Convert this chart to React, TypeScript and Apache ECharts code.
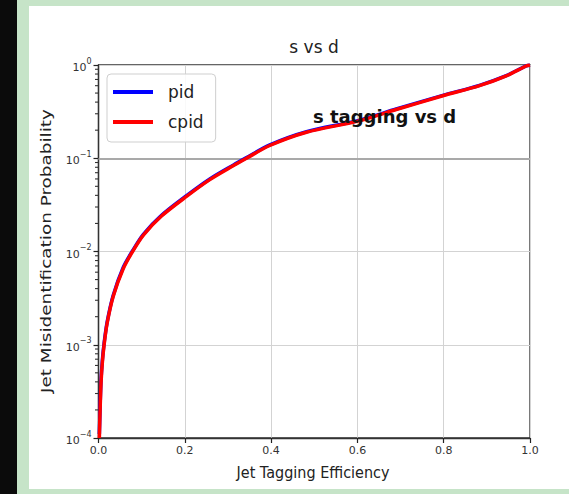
import React, { useEffect, useRef } from "react";
import * as echarts from "echarts";

// ---- data ----
const X_TICKS = [0, 0.2, 0.4, 0.6, 0.8, 1.0];
const Y_DECADES = [1e-4, 1e-3, 1e-2, 1e-1, 1];
const MINOR_MANTISSAS = [2, 3, 4, 5, 6, 7, 8, 9];
const MINOR_DECADES = [1e-4, 1e-3, 1e-2, 1e-1];

const EFF = [0.002, 0.004, 0.006, 0.009, 0.013, 0.02, 0.034, 0.057, 0.079, 0.104, 0.146, 0.204, 0.258, 0.312, 0.343, 0.397, 0.482, 0.601, 0.69, 0.798, 0.883, 0.945, 0.991, 1.0];
const PID = [1.1e-4, 2.4e-4, 4.3e-4, 6.9e-4, 1.04e-3, 1.75e-3, 3.38e-3, 6.7e-3, 1.02e-2, 0.0153, 0.0244, 0.0397, 0.06, 0.0843, 0.1015, 0.139, 0.1925, 0.2535, 0.337, 0.4725, 0.605, 0.769, 0.977, 1.0];
const CPID = [1.0e-4, 2.2e-4, 4.0e-4, 6.5e-4, 1.0e-3, 1.7e-3, 3.3e-3, 6.5e-3, 1.0e-2, 0.015, 0.024, 0.039, 0.059, 0.083, 0.1, 0.137, 0.19, 0.25, 0.333, 0.468, 0.6, 0.765, 0.975, 1.0];
const REF_LINE = 0.1;

const TITLE = "s vs d";
const X_NAME = "Jet Tagging Efficiency";
const Y_NAME = "Jet Misidentification Probability";
const NOTE = "s tagging vs d";

const FONT = "DejaVu Sans";

export default function App() {
  const ref = useRef<HTMLDivElement>(null);

  useEffect(() => {
    if (!ref.current) return;
    const chart = echarts.init(ref.current, undefined, { renderer: "svg" });

    const supLabel = (v: number) => {
      const e = Math.round(Math.log10(v));
      const s = e < 0 ? "\u2212" + Math.abs(e) : String(e);
      return "{b|10}{s|" + s + "}";
    };

    const texts: any[] = [
      {
        type: "text",
        x: 314,
        y: 47,
        style: { text: TITLE, fontSize: 17, fontFamily: FONT, fill: "#222", textAlign: "center", textVerticalAlign: "middle" },
      },
      {
        type: "text",
        x: 313,
        y: 473,
        scaleY: 1.15,
        style: { text: X_NAME, fontSize: 14.4, fontFamily: FONT, fill: "#222", textAlign: "center", textVerticalAlign: "middle" },
      },
      {
        type: "text",
        x: 46,
        y: 251,
        rotation: Math.PI / 2,
        scaleX: 1.28,
        style: { text: Y_NAME, fontSize: 14.4, fontFamily: FONT, fill: "#222", textAlign: "center", textVerticalAlign: "middle" },
      },
      {
        type: "text",
        x: 313,
        y: 116,
        z: 10,
        style: { text: NOTE, fontSize: 18, fontWeight: "bold", fontFamily: FONT, fill: "#111", textAlign: "left", textVerticalAlign: "middle" },
      },
    ];

    const option: any = {
      animation: false,
      backgroundColor: "transparent",
      grid: {
        left: 98.5,
        right: 39,
        top: 65,
        bottom: 56,
        show: true,
        borderColor: "#333",
        borderWidth: 1.3,
        backgroundColor: "transparent",
      },
      legend: {
        data: ["pid", "cpid"],
        orient: "vertical",
        left: 107,
        top: 74,
        icon: "rect",
        itemWidth: 40,
        itemHeight: 4,
        itemGap: 10,
        padding: [8, 12, 10, 6],
        borderColor: "#cfcfcf",
        borderWidth: 1,
        borderRadius: 4,
        backgroundColor: "rgba(255,255,255,0.85)",
        textStyle: { fontSize: 17, color: "#222", fontFamily: FONT, lineHeight: 20, padding: [0, 0, 0, 10] },
      },
      xAxis: {
        type: "value",
        min: X_TICKS[0],
        max: X_TICKS[X_TICKS.length - 1],
        interval: 0.2,
        axisLine: { show: true, lineStyle: { color: "#333", width: 1.3 } },
        axisTick: { show: true, length: 5, lineStyle: { color: "#222", width: 1.2 } },
        axisLabel: {
          color: "#333",
          fontSize: 11,
          fontFamily: FONT,
          margin: 7,
          formatter: (v: number) => v.toFixed(1),
        },
        splitLine: { show: true, lineStyle: { color: "#d3d3d3", width: 1 } },
      },
      yAxis: {
        type: "log",
        logBase: 10,
        min: Y_DECADES[0],
        max: Y_DECADES[Y_DECADES.length - 1],
        axisLine: { show: true, lineStyle: { color: "#333", width: 1.3 } },
        axisTick: { show: true, length: 5, lineStyle: { color: "#222", width: 1.2 } },
        axisLabel: {
          color: "#333",
          fontFamily: FONT,
          margin: 7,
          formatter: (v: number) => supLabel(v),
          rich: {
            b: { fontSize: 11, color: "#333", fontFamily: FONT, lineHeight: 16, verticalAlign: "bottom" },
            s: { fontSize: 8, color: "#333", fontFamily: FONT, lineHeight: 16, verticalAlign: "top" },
          },
        },
        splitLine: { show: true, lineStyle: { color: "#d3d3d3", width: 1 } },
      },
      series: [
        {
          name: "pid",
          type: "line",
          data: EFF.map((x, i) => [x, PID[i]]),
          showSymbol: false,
          symbol: "none",
          smooth: 0.3,
          color: "#0000ff",
          lineStyle: { color: "#0000ff", width: 3.5 },
          z: 3,
          markLine: {
            silent: true,
            symbol: ["none", "none"],
            label: { show: false },
            lineStyle: { color: "#a9a9a9", width: 2.2, type: "solid" },
            data: [{ yAxis: REF_LINE }],
            z: 1,
          },
        },
        {
          name: "cpid",
          type: "line",
          data: EFF.map((x, i) => [x, CPID[i]]),
          showSymbol: false,
          symbol: "none",
          smooth: 0.3,
          color: "#ff0000",
          lineStyle: { color: "#ff0000", width: 3.5 },
          z: 4,
        },
      ],
      graphic: texts,
    };

    chart.setOption(option);

    // minor ticks of the log axis, positioned through the chart's own y scale
    const ticks: any[] = [];
    MINOR_DECADES.forEach((d) =>
      MINOR_MANTISSAS.forEach((m) => {
        const p = chart.convertToPixel({ xAxisIndex: 0, yAxisIndex: 0 } as any, [0, m * d]) as number[];
        if (p && isFinite(p[0]) && isFinite(p[1])) {
          ticks.push({
            type: "line",
            silent: true,
            z: 20,
            shape: { x1: p[0] - 3.5, y1: p[1], x2: p[0], y2: p[1] },
            style: { stroke: "#333", lineWidth: 1.1 },
          });
        }
      })
    );
    chart.setOption({ graphic: texts.concat(ticks) }, { replaceMerge: ["graphic"] });

    return () => chart.dispose();
  }, []);

  return (
    <div style={{ position: "fixed", left: 0, top: 0, width: 569, height: 494, background: "#c6e4c8", overflow: "hidden" }}>
      <div style={{ position: "absolute", left: 0, top: 0, width: 17, height: 494, background: "#0b0b0b" }} />
      <div style={{ position: "absolute", left: 29, top: 6, width: 540, height: 483, background: "#ffffff" }} />
      <div ref={ref} style={{ position: "absolute", left: 0, top: 0, width: 569, height: 494 }} />
    </div>
  );
}
